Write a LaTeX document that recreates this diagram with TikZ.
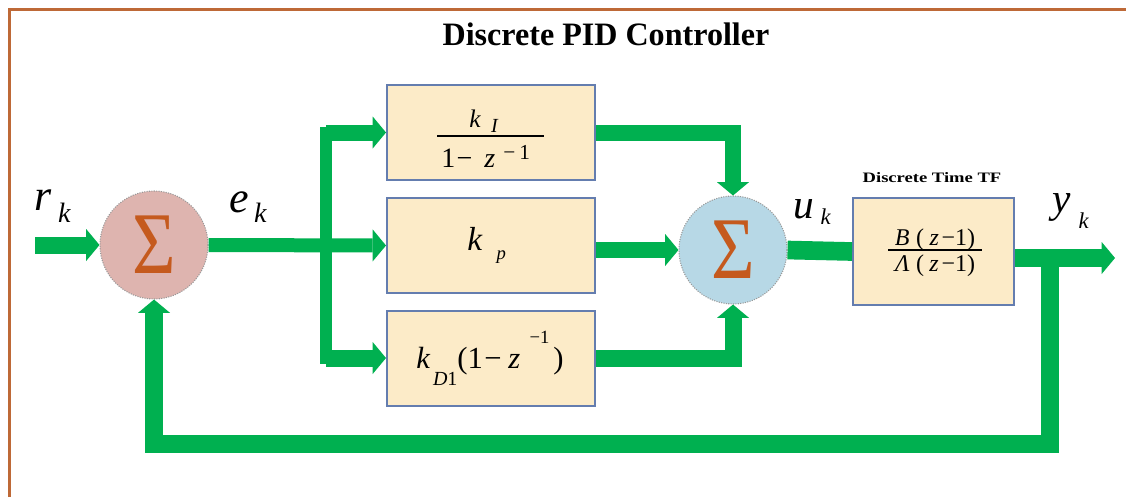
\documentclass[tikz,border=0pt]{standalone}
\usepackage{fontspec}
\setmainfont{Liberation Serif}
\usetikzlibrary{arrows.meta}
\newcommand\fsz[1]{\fontsize{#1}{#1}\selectfont}
\definecolor{flowgreen}{RGB}{0,176,80}
\definecolor{boxfill}{RGB}{252,235,200}
\definecolor{boxedge}{RGB}{100,125,175}
\definecolor{sumpink}{RGB}{222,180,175}
\definecolor{sumblue}{RGB}{183,216,230}
\definecolor{sigmacol}{RGB}{197,90,30}
\definecolor{framecol}{RGB}{190,105,55}
\begin{document}
\begin{tikzpicture}[x=0.75pt,y=-0.75pt,
  >={Triangle[length=10pt,width=24pt,line width=0pt]},
  flow/.style={draw=flowgreen},
  block/.style={draw=boxedge, fill=boxfill, line width=1.5pt,
    minimum width=156pt, minimum height=71.25pt, inner sep=0pt},
  summer/.style={circle, draw=gray!80, densely dotted, line width=0.8pt,
    minimum size=81pt, inner sep=0pt, text=sigmacol,
    font={\fsz{66pt}}},
  lbl/.style={anchor=base west, inner sep=0pt, font={\fsz{33pt}\itshape}},
  formula/.style={inner sep=0pt}]

% canvas and frame
\useasboundingbox (0,0) rectangle (1126,497);
\fill[white] (0,0) rectangle (1126,497);
\draw[framecol, line width=1.8pt] (9.5,497) -- (9.5,9.5) -- (1126,9.5);

% title
\node[formula, anchor=base] (title) at (606,45)
  {\resizebox{245pt}{17pt}{\bfseries Discrete PID Controller}};

% summing junctions
\node[summer, fill=sumpink] (s1) at (154,245) {\scalebox{0.85}[1]{Σ}};
\node[summer, fill=sumblue] (s2) at (733,250) {\scalebox{0.85}[1]{Σ}};

% controller blocks
\node[block] (bi) at (491,132.5) {};
\node[block] (bp) at (491,245.5) {};
\node[block] (bd) at (491,358) {};

% plant block
\node[block, minimum width=120.75pt, minimum height=80.25pt] (tf) at (933.5,251.5) {};
\node[formula, anchor=base] (tftitle) at (932,182)
  {\resizebox{104pt}{7.5pt}{\bfseries Discrete Time TF}};

% block contents
\node[formula, anchor=base west] (ki) at (469,127)
  {\fsz{19pt}\itshape k\hspace{8pt}\raisebox{-3.75pt}{\fsz{15pt}I}};
\node[formula, anchor=base west] (kiden) at (441,167)
  {\fsz{21pt}1\hspace{1pt}−\hspace{9pt}\textit{z}\hspace{6pt}\raisebox{6pt}{\fsz{16pt}−\hspace{3pt}1}};
\draw[line width=1.5pt] (437,136) -- (544,136);

\node[formula, anchor=base west] (kp) at (467,250)
  {\fsz{25pt}\itshape k\hspace{11pt}\raisebox{-6.75pt}{\fsz{14pt}p}};

\node[formula, anchor=base west] (kd) at (416,368)
  {\fsz{23pt}\textit{k}\hspace{2pt}\raisebox{-12.75pt}{\fsz{15pt}\textit{D}1}(1\hspace{1pt}−\hspace{5pt}\textit{z}\hspace{7pt}\raisebox{18.75pt}{\fsz{14pt}−1}\hspace{3pt})};

\node[formula, anchor=base] (tfnum) at (935,245)
  {\fsz{18pt}\textit{B}\hspace{5pt}(\hspace{4pt}\textit{z}\hspace{2pt}−1)};
\node[formula, anchor=base] (tfden) at (935,271)
  {\fsz{18pt}\textit{Λ}\hspace{5pt}(\hspace{4pt}\textit{z}\hspace{2pt}−1)};
\draw[line width=1.1pt] (888,250) -- (982,250);

% signal labels
\node[lbl] (rk) at (34,210) {r\hspace{5pt}\raisebox{-9pt}{\fsz{21pt}k}};
\node[lbl] (ek) at (229,212) {e\hspace{4pt}\raisebox{-7.5pt}{\fsz{21pt}k}};
\node[lbl, font={\fsz{31pt}\itshape}] (uk) at (793,218) {u\hspace{5pt}\raisebox{-4.5pt}{\fsz{17pt}k}};
\node[lbl, font={\fsz{31pt}\itshape}] (yk) at (1052,212) {y\hspace{6pt}\raisebox{-12pt}{\fsz{17pt}k}};

% connectors
\coordinate (in) at (35,245);
\coordinate (jt) at (326,132.5);
\coordinate (jb) at (326,358);
\coordinate (out) at (1115,258);
\coordinate (fb) at (1050,258);
\coordinate (fbl) at (154,444);

\draw[flow, line width=12.75pt, ->] (in) -- (s1.west);
\draw[flow, line width=10.5pt, ->] (s1.east) -- (bp.west);
\draw[flow, line width=9pt, line cap=rect] (jt) -- (jb);
\draw[flow, line width=12pt, ->] (jt) -- (bi.west);
\draw[flow, line width=12.75pt, ->] (jb) -- (bd.west);
\draw[flow, line width=12pt, ->] (bi.east) -| (s2.north);
\draw[flow, line width=12pt, ->] (bp.east |- s2.west) -- (s2.west);
\draw[flow, line width=12.75pt, ->] (bd.east) -| (s2.south);
\draw[flow, line width=14pt] (s2.east) -- (tf.west);
\draw[flow, line width=13.5pt, ->] (tf.east |- out) -- (out);
\draw[flow, line width=13pt, ->] (fb) |- (fbl) -- (s1.south);
\end{tikzpicture}
\end{document}
